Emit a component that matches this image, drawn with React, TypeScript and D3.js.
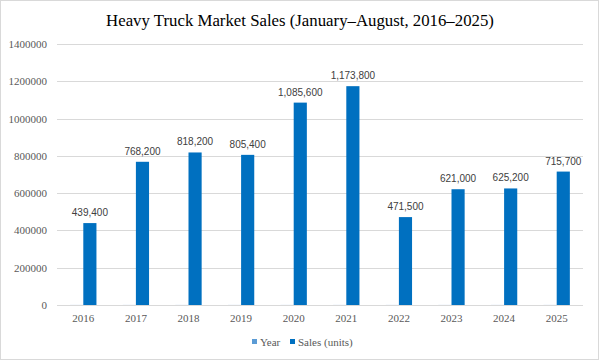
import * as d3 from "d3";
import { useEffect, useRef } from "react";

const years = ["2016", "2017", "2018", "2019", "2020", "2021", "2022", "2023", "2024", "2025"];
const yearValues = [2016, 2017, 2018, 2019, 2020, 2021, 2022, 2023, 2024, 2025];
const sales = [439400, 768200, 818200, 805400, 1085600, 1173800, 471500, 621000, 625200, 715700];
const yTicks = [0, 200000, 400000, 600000, 800000, 1000000, 1200000, 1400000];
const seriesNames = ["Year", "Sales (units)"];
const title = "Heavy Truck Market Sales (January\u2013August, 2016\u20132025)";

const width = 600;
const height = 362;
const colors = ["#5b9bd5", "#0070c0"];

export default function App() {
  const svgRef = useRef<SVGSVGElement>(null);

  useEffect(() => {
    const svg = d3.select(svgRef.current);
    svg.selectAll("*").remove();

    // chart border
    svg
      .append("rect")
      .attr("x", 0.5)
      .attr("y", 0.5)
      .attr("width", width - 2)
      .attr("height", height - 3)
      .attr("fill", "#fff")
      .attr("stroke", "#d9d9d9");

    svg
      .append("text")
      .attr("x", 300)
      .attr("y", 26)
      .attr("text-anchor", "middle")
      .attr("font-family", "Liberation Serif, Times New Roman, serif")
      .attr("font-size", 16.8)
      .attr("fill", "#000")
      .text(title);

    const x = d3.scaleBand().domain(years).range([57, 583]).paddingInner(0).paddingOuter(0);
    const inner = d3
      .scaleBand()
      .domain(seriesNames)
      .range([0, x.bandwidth()])
      .paddingInner(0)
      .paddingOuter(1);
    const y = d3.scaleLinear().domain([0, 1400000]).range([305, 44]);

    // gridlines
    svg
      .append("g")
      .selectAll("line")
      .data(yTicks)
      .join("line")
      .attr("x1", 57)
      .attr("x2", 583)
      .attr("y1", (d) => Math.round(y(d)) + 0.5)
      .attr("y2", (d) => Math.round(y(d)) + 0.5)
      .attr("stroke", "#d9d9d9");

    // y labels
    svg
      .append("g")
      .selectAll("text")
      .data(yTicks)
      .join("text")
      .attr("x", 47)
      .attr("y", (d) => y(d) + 4)
      .attr("text-anchor", "end")
      .attr("font-family", "Liberation Serif, Times New Roman, serif")
      .attr("font-size", 11)
      .attr("fill", "#595959")
      .text((d) => String(d));

    // x labels
    svg
      .append("g")
      .selectAll("text")
      .data(years)
      .join("text")
      .attr("x", (d) => (x(d) ?? 0) + x.bandwidth() / 2)
      .attr("y", 322)
      .attr("text-anchor", "middle")
      .attr("font-family", "Liberation Serif, Times New Roman, serif")
      .attr("font-size", 11)
      .attr("fill", "#595959")
      .text((d) => d);

    // Year series (too small to see at this scale)
    svg
      .append("g")
      .selectAll("rect")
      .data(yearValues)
      .join("rect")
      .attr("x", (_, i) => (x(years[i]) ?? 0) + (inner("Year") ?? 0))
      .attr("y", (d) => y(d))
      .attr("width", inner.bandwidth())
      .attr("height", (d) => y(0) - y(d))
      .attr("fill", colors[0])
      .attr("fill-opacity", 0.15);

    // Sales bars
    svg
      .append("g")
      .selectAll("rect")
      .data(sales)
      .join("rect")
      .attr("x", (_, i) => (x(years[i]) ?? 0) + (inner("Sales (units)") ?? 0))
      .attr("y", (d) => y(d))
      .attr("width", inner.bandwidth())
      .attr("height", (d) => y(0) - y(d))
      .attr("fill", colors[1]);

    // data labels
    svg
      .append("g")
      .selectAll("text")
      .data(sales)
      .join("text")
      .attr("x", (_, i) => (x(years[i]) ?? 0) + (inner("Sales (units)") ?? 0) + inner.bandwidth() / 2)
      .attr("y", (d) => y(d) - 7)
      .attr("text-anchor", "middle")
      .attr("font-family", "Liberation Sans, Arial, sans-serif")
      .attr("font-size", 10)
      .attr("fill", "#404040")
      .text((d) => d3.format(",")(d));

    // legend
    const legend = svg.append("g");
    const legendX = [252, 290];
    seriesNames.forEach((name, i) => {
      legend
        .append("rect")
        .attr("x", legendX[i])
        .attr("y", 339)
        .attr("width", 5)
        .attr("height", 5)
        .attr("fill", colors[i]);
      legend
        .append("text")
        .attr("x", legendX[i] + 8)
        .attr("y", 345.5)
        .attr("font-family", "Liberation Serif, Times New Roman, serif")
        .attr("font-size", 11)
        .attr("fill", "#595959")
        .text(name);
    });
  }, []);

  return (
    <svg
      ref={svgRef}
      width={width}
      height={height}
      style={{ position: "absolute", left: 0, top: 0 }}
    />
  );
}
